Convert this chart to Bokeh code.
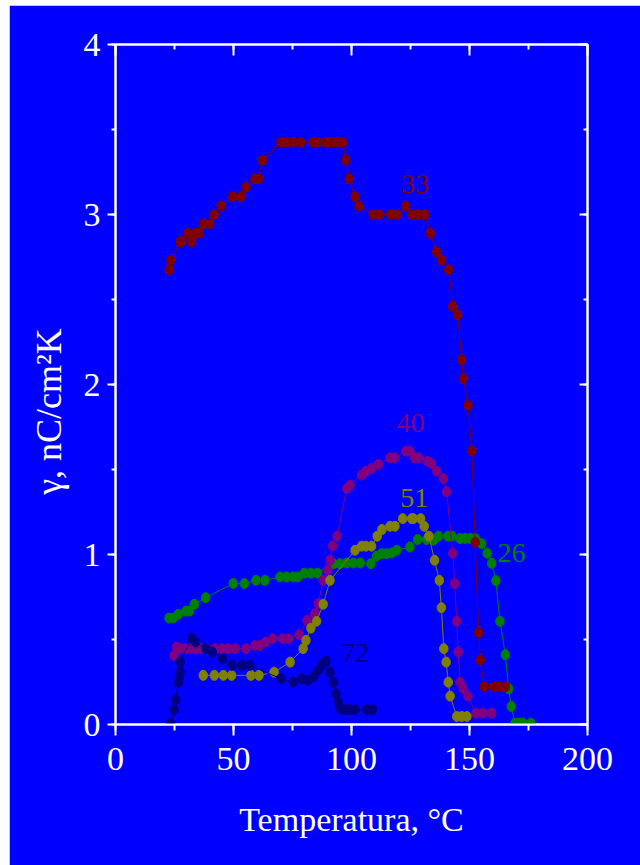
from bokeh.plotting import figure
from bokeh.models import Range1d, LinearAxis, SingleIntervalTicker
from bokeh.core.properties import value
from bokeh.embed import file_html
from bokeh.resources import INLINE

# --- data: pyroelectric coefficient vs temperature for five samples ---
t33 = [22.8, 23.5, 27.4, 28.1, 30.5, 32.3, 33.7, 35.4, 37.2, 39.9, 41.9, 44.8, 49.7, 53.2,
       55.3, 59.1, 60.6, 62.3, 70.1, 72.6, 75.4, 78.6, 83.8, 85.2, 88.8, 90.9, 93.0, 95.1,
       96.3, 97.6, 99.1, 101.5, 103.2, 109.2, 111.8, 116.7, 119.4, 123.0, 125.6, 128.1,
       131.1, 133.4, 136.1, 138.2, 141.2, 142.9, 145.0, 146.7, 147.4, 149.4, 151.0, 152.4,
       153.9, 154.6, 156.3, 160.5, 162.6, 165.2]
g33 = [2.675, 2.73, 2.84, 2.84, 2.89, 2.84, 2.89, 2.89, 2.945, 2.945, 3.0, 3.05, 3.105, 3.105,
       3.16, 3.21, 3.21, 3.32, 3.425, 3.425, 3.425, 3.425, 3.425, 3.425, 3.425, 3.425, 3.425, 3.425,
       3.425, 3.32, 3.21, 3.105, 3.05, 3.0, 3.0, 3.0, 3.0, 3.05, 3.0, 3.0,
       3.0, 2.89, 2.78, 2.73, 2.675, 2.46, 2.41, 2.145, 2.035, 1.877, 1.61, 1.072,
       0.54, 0.38, 0.222, 0.222, 0.222, 0.222]

t40 = [24.8, 25.9, 27.4, 29.5, 31.6, 33.7, 35.8, 38.6, 42.2, 45.0, 47.8, 50.7, 55.2, 59.1,
       61.2, 63.6, 66.6, 70.9, 73.4, 77.8, 81.2, 84.5, 85.9, 88.0, 89.9, 90.9, 92.0, 93.9,
       98.0, 99.4, 104.3, 106.1, 108.5, 111.4, 116.3, 118.2, 123.1, 124.8, 126.7, 128.4,
       132.2, 133.9, 136.1, 138.9, 140.3, 142.9, 143.7, 144.6, 145.2, 146.0, 147.4, 149.3,
       152.7, 155.6, 159.4]
g40 = [0.406, 0.455, 0.446, 0.446, 0.446, 0.446, 0.446, 0.446, 0.446, 0.446, 0.446, 0.446, 0.446, 0.465,
       0.465, 0.485, 0.505, 0.505, 0.505, 0.528, 0.613, 0.652, 0.711, 0.848, 0.907, 0.966, 1.05, 1.108,
       1.388, 1.408, 1.467, 1.49, 1.506, 1.53, 1.569, 1.569, 1.608, 1.608, 1.569, 1.569,
       1.549, 1.535, 1.49, 1.447, 1.369, 1.007, 0.829, 0.607, 0.426, 0.249, 0.21, 0.167,
       0.067, 0.067, 0.067]

t51 = [37.2, 41.9, 45.7, 49.2, 57.4, 60.8, 67.2, 74.0, 79.5, 80.7, 82.8, 85.2, 88.0, 90.9,
       101.5, 104.3, 106.1, 108.5, 110.9, 112.9, 116.3, 118.4, 121.7, 125.5, 126.2, 129.3,
       130.8, 132.8, 135.2, 137.2, 138.1, 139.1, 140.1, 141.0, 141.8, 144.6, 146.7, 148.9]
g51 = [0.289, 0.289, 0.289, 0.289, 0.289, 0.289, 0.308, 0.367, 0.446, 0.495, 0.567, 0.607, 0.707, 0.848,
       1.025, 1.049, 1.049, 1.049, 1.108, 1.147, 1.166, 1.166, 1.211, 1.211, 1.211, 1.211,
       1.166, 1.108, 0.966, 0.848, 0.687, 0.446, 0.367, 0.249, 0.167, 0.047, 0.047, 0.047]

t26 = [22.7, 24.5, 26.6, 29.9, 31.3, 33.4, 38.2, 49.9, 54.6, 59.5, 63.3, 69.7, 72.5, 75.4,
       77.3, 80.0, 82.8, 85.6, 92.3, 95.1, 98.0, 100.8, 103.7, 108.2, 110.6, 112.8, 114.9,
       117.0, 119.2, 124.8, 128.0, 131.8, 134.7, 136.8, 140.8, 142.5, 146.0, 148.1, 150.3,
       152.4, 155.1, 157.5, 159.4, 161.2, 162.9, 165.2, 166.6, 167.7, 169.3, 171.1, 172.6, 176.0]
g26 = [0.626, 0.626, 0.648, 0.667, 0.667, 0.707, 0.746, 0.829, 0.829, 0.848, 0.848, 0.868, 0.868, 0.868,
       0.868, 0.89, 0.89, 0.89, 0.946, 0.946, 0.95, 0.95, 0.95, 0.946, 0.99, 1.005, 1.005,
       1.009, 1.025, 1.044, 1.088, 1.088, 1.084, 1.108, 1.108, 1.108, 1.094, 1.094, 1.094,
       1.094, 1.064, 1.007, 0.948, 0.846, 0.607, 0.41, 0.21, 0.106, 0.008, 0.008, 0.008, 0.008]

t72 = [23.4, 24.8, 25.5, 26.6, 27.1, 27.4, 27.4, 32.3, 33.9, 38.2, 41.0, 45.4, 49.4, 53.5,
       56.9, 70.1, 75.4, 78.9, 81.4, 83.8, 85.9, 87.6, 89.2, 90.9, 92.3, 93.4, 94.4, 95.4,
       97.3, 99.1, 101.5, 106.5, 109.0]
g72 = [0.008, 0.087, 0.146, 0.249, 0.283, 0.308, 0.367, 0.508, 0.485, 0.446, 0.426, 0.387, 0.348, 0.348,
       0.348, 0.269, 0.249, 0.269, 0.259, 0.279, 0.318, 0.353, 0.373, 0.308, 0.249, 0.181, 0.132, 0.092,
       0.087, 0.087, 0.087, 0.087, 0.087]

# sample names and where they are written
label_text = ["33", "40", "51", "26", "72"]
label_x = [126.9, 125.0, 126.6, 167.8, 101.6]
label_y = [3.18, 1.775, 1.334, 1.01, 0.42]

x_ticks_interval = 50
y_ticks_interval = 1

BLUE = "#0000FF"
SERIF = "Liberation Serif"
NBSP = "\u00a0"

p = figure(width=631, height=860,
           x_range=Range1d(0, 200), y_range=Range1d(0, 4),
           output_backend="svg", toolbar_location=None,
           min_border_left=106, min_border_right=53,
           min_border_top=39, min_border_bottom=141,
           background_fill_color=BLUE, border_fill_color=BLUE,
           x_axis_label="Temperatura, \u00b0C",
           # trailing no-break spaces nudge the rotated title toward the bottom
           y_axis_label="\u03b3, nC/cm\u00b2K" + NBSP * 6)
p.margin = (5, 0, 0, 9)
p.grid.visible = False
p.outline_line_color = "white"
p.outline_line_width = 2

xticker = SingleIntervalTicker(interval=x_ticks_interval, num_minor_ticks=2)
yticker = SingleIntervalTicker(interval=y_ticks_interval, num_minor_ticks=2)

top_axis = LinearAxis(ticker=xticker)
right_axis = LinearAxis(ticker=yticker)
p.add_layout(top_axis, "above")
p.add_layout(right_axis, "right")

p.below[0].ticker = xticker
p.left[0].ticker = yticker

for ax in [p.below[0], p.left[0], top_axis, right_axis]:
    ax.axis_line_color = "white"
    ax.axis_line_width = 2
    ax.major_tick_line_color = "white"
    ax.major_tick_line_width = 2
    ax.minor_tick_line_color = "white"
    ax.minor_tick_line_width = 2
    ax.major_label_text_color = "white"
    ax.major_label_text_font = SERIF
    ax.major_label_text_font_size = "34px"
    ax.axis_label_text_color = "white"
    ax.axis_label_text_font = SERIF
    ax.axis_label_text_font_size = "34px"
    ax.axis_label_text_font_style = "normal"

bx = p.below[0]
bx.major_tick_out, bx.major_tick_in = 11, 0
bx.minor_tick_out, bx.minor_tick_in = 6, 0
bx.major_label_standoff = 12
bx.axis_label_standoff = 28

ly = p.left[0]
ly.major_tick_out, ly.major_tick_in = 8, 0
ly.minor_tick_out, ly.minor_tick_in = 4, 0
ly.major_label_standoff = 7
ly.axis_label_standoff = 12
ly.axis_label_text_font_size = "36px"

# top and right axes carry inward ticks only, no numbers
for ax in (top_axis, right_axis):
    ax.major_label_text_color = None
    ax.major_label_text_font_size = "1px"
    ax.major_tick_out = 0
    ax.minor_tick_out = 0
top_axis.major_tick_in, top_axis.minor_tick_in = 11, 5
right_axis.major_tick_in, right_axis.minor_tick_in = 8, 4

series = [
    (t26, g26, "#008000"),
    (t40, g40, "#800080"),
    (t51, g51, "#808000"),
    (t33, g33, "#800000"),
    (t72, g72, "#000080"),
]
for tx, gy, col in series:
    p.line(tx, gy, line_color=col, line_width=1)
    p.ellipse(tx, gy, width=8.5, height=10, width_units="screen", height_units="screen",
              fill_color=col, line_color=col)

label_colors = ["#800000", "#800080", "#808000", "#008000", "#000080"]
p.text(x=label_x, y=label_y, text=label_text, text_color=label_colors,
       text_font=value(SERIF), text_font_size="28px",
       text_align="center", text_baseline="middle")

open("out.html", "w").write(file_html(p, INLINE))
